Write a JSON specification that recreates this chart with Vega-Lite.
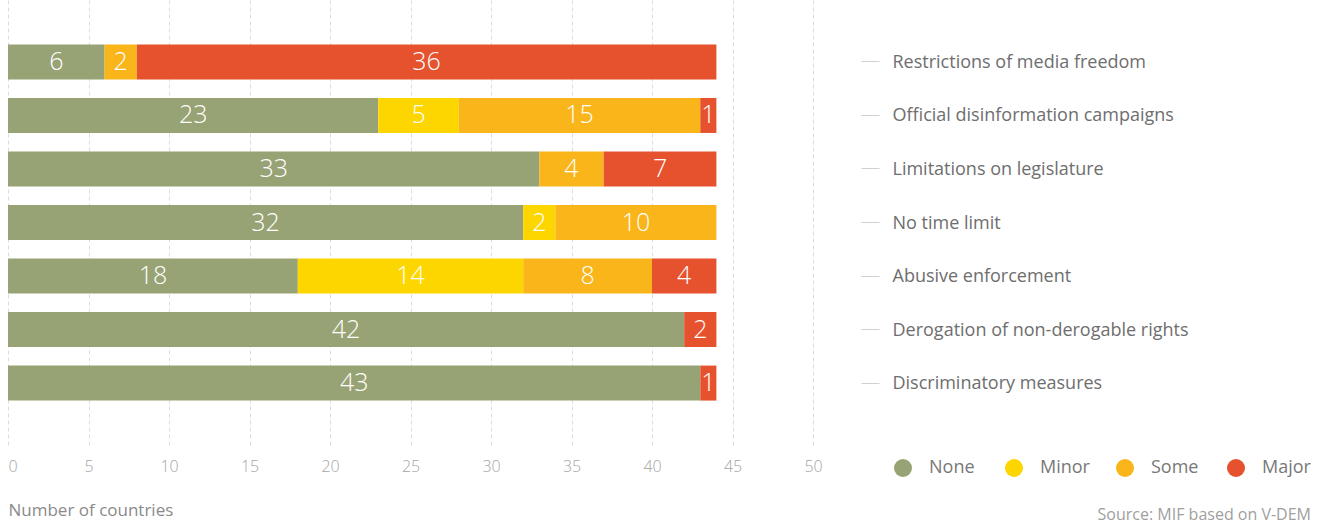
{
  "$schema": "https://vega.github.io/schema/vega-lite/v6.json",
  "width": 805,
  "height": 445,
  "autosize": {"type": "none"},
  "padding": {"left": 8, "top": 0, "right": 511, "bottom": 79},
  "background": "white",
  "config": {"font": "Open Sans", "view": {"stroke": null}},
  "title": {"text": "Source: MIF based on V-DEM", "orient": "bottom", "anchor": "end", "frame": "bounds", "fontSize": 16, "fontWeight": 400, "color": "#a0a0a0", "offset": 0, "dy": -11},
  "data": {
    "values": [
      {"category": "Restrictions of media freedom", "level": "None", "rank": 1, "value": 6},
      {"category": "Restrictions of media freedom", "level": "Some", "rank": 3, "value": 2},
      {"category": "Restrictions of media freedom", "level": "Major", "rank": 4, "value": 36},
      {"category": "Official disinformation campaigns", "level": "None", "rank": 1, "value": 23},
      {"category": "Official disinformation campaigns", "level": "Minor", "rank": 2, "value": 5},
      {"category": "Official disinformation campaigns", "level": "Some", "rank": 3, "value": 15},
      {"category": "Official disinformation campaigns", "level": "Major", "rank": 4, "value": 1},
      {"category": "Limitations on legislature", "level": "None", "rank": 1, "value": 33},
      {"category": "Limitations on legislature", "level": "Some", "rank": 3, "value": 4},
      {"category": "Limitations on legislature", "level": "Major", "rank": 4, "value": 7},
      {"category": "No time limit", "level": "None", "rank": 1, "value": 32},
      {"category": "No time limit", "level": "Minor", "rank": 2, "value": 2},
      {"category": "No time limit", "level": "Some", "rank": 3, "value": 10},
      {"category": "Abusive enforcement", "level": "None", "rank": 1, "value": 18},
      {"category": "Abusive enforcement", "level": "Minor", "rank": 2, "value": 14},
      {"category": "Abusive enforcement", "level": "Some", "rank": 3, "value": 8},
      {"category": "Abusive enforcement", "level": "Major", "rank": 4, "value": 4},
      {"category": "Derogation of non-derogable rights", "level": "None", "rank": 1, "value": 42},
      {"category": "Derogation of non-derogable rights", "level": "Major", "rank": 4, "value": 2},
      {"category": "Discriminatory measures", "level": "None", "rank": 1, "value": 43},
      {"category": "Discriminatory measures", "level": "Major", "rank": 4, "value": 1}
    ]
  },
  "encoding": {
    "y": {
      "field": "category",
      "type": "nominal",
      "sort": ["Restrictions of media freedom", "Official disinformation campaigns", "Limitations on legislature", "No time limit", "Abusive enforcement", "Derogation of non-derogable rights", "Discriminatory measures"],
      "scale": {"paddingInner": 0.346, "paddingOuter": 0.83},
      "axis": {
        "orient": "right",
        "offset": 48,
        "domain": false,
        "ticks": true,
        "tickSize": 18,
        "tickColor": "#d0d0d0",
        "tickWidth": 1,
        "labelPadding": 13,
        "labelFontSize": 18,
        "labelFontWeight": 400,
        "labelColor": "#6e6e6e",
        "labelLimit": 400,
        "labelOffset": 1,
        "grid": false,
        "title": null
      }
    }
  },
  "layer": [
    {
      "mark": {"type": "bar"},
      "encoding": {
        "x": {
          "field": "value",
          "type": "quantitative",
          "stack": "zero",
          "scale": {"domain": [0, 50], "nice": false},
          "axis": {
            "values": [0, 5, 10, 15, 20, 25, 30, 35, 40, 45, 50],
            "grid": true,
            "gridDash": [4, 3],
            "gridColor": "#dddddd",
            "domain": false,
            "ticks": false,
            "labelPadding": 13,
            "labelFontSize": 16,
            "labelFontWeight": 300,
            "labelColor": "#a5a5a5",
            "labelAlign": {"expr": "datum.value === 0 ? 'left' : 'center'"},
            "title": "Number of countries",
            "titleAnchor": "start",
            "titleAlign": "left",
            "titleX": 0,
            "titleY": 65,
            "titleBaseline": "middle",
            "titleFontSize": 17,
            "titleFontWeight": 400,
            "titleColor": "#8a8a8a"
          }
        },
        "color": {
          "field": "level",
          "type": "nominal",
          "scale": {"domain": ["None", "Minor", "Some", "Major"], "range": ["#98a375", "#fdd600", "#f9b51a", "#e5522d"]},
          "legend": {
            "orient": "none",
            "legendX": 886,
            "legendY": 459,
            "direction": "horizontal",
            "symbolType": "circle",
            "symbolSize": 324,
            "symbolStrokeWidth": 0,
            "labelFontSize": 18,
            "labelFontWeight": 400,
            "labelColor": "#787878",
            "labelOffset": 17,
            "columnPadding": 26,
            "gridAlign": "all",
            "padding": 0,
            "title": null
          }
        },
        "order": {"field": "rank", "type": "quantitative"}
      }
    },
    {
      "mark": {"type": "text", "color": "white", "fontSize": 25, "fontWeight": 300, "baseline": "middle", "align": "center"},
      "encoding": {
        "x": {"field": "value", "type": "quantitative", "stack": "zero", "bandPosition": 0.5},
        "detail": {"field": "level", "type": "nominal"},
        "order": {"field": "rank", "type": "quantitative"},
        "text": {"field": "value", "type": "quantitative"}
      }
    }
  ]
}
